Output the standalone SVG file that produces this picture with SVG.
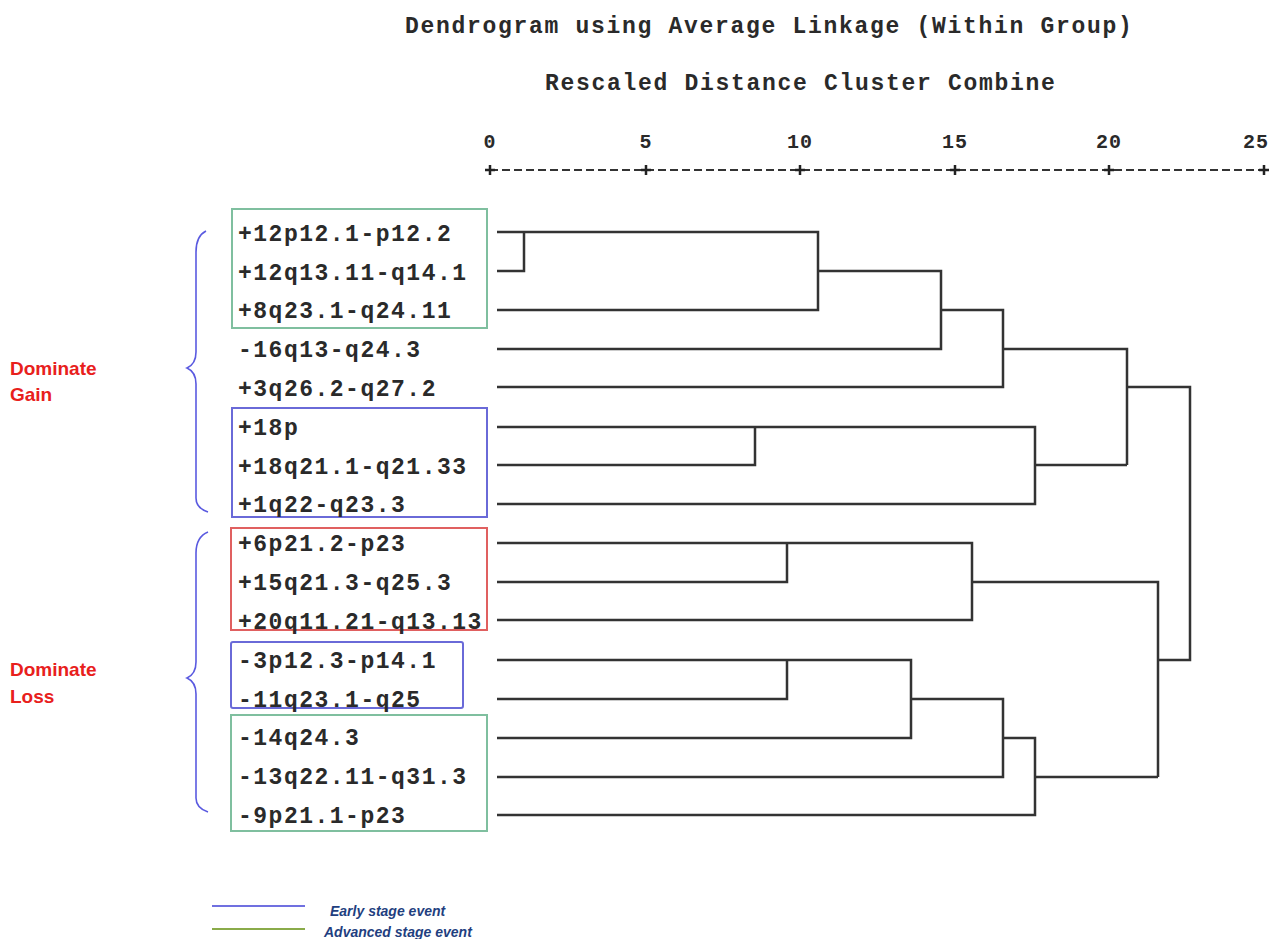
<svg xmlns="http://www.w3.org/2000/svg" width="1273" height="939" viewBox="0 0 1273 939">
<style>
.mono{font-family:"Liberation Mono","DejaVu Sans Mono",monospace;font-weight:bold;fill:#2a2a2a;font-size:23px;letter-spacing:1.5px}
.hdr{font-family:"Liberation Mono","DejaVu Sans Mono",monospace;font-weight:bold;fill:#2a2a2a;font-size:23px;letter-spacing:1.7px}
.num{font-family:"Liberation Mono","DejaVu Sans Mono",monospace;font-weight:bold;fill:#2a2a2a;font-size:20px;letter-spacing:1px}
.dom{font-family:"Liberation Sans",Arial,sans-serif;font-weight:bold;fill:#e8201c;font-size:19px}
.leg{font-family:"Liberation Sans",Arial,sans-serif;font-weight:bold;font-style:italic;fill:#1f3f7f;font-size:14px}
.tree{fill:none;stroke:#333;stroke-width:2.5}
.brace{fill:none;stroke:#5a5ae0;stroke-width:1.6}
.gbox{fill:none;stroke:#7fbf9f;stroke-width:2}
.bbox{fill:none;stroke:#6a6ad8;stroke-width:2}
.rbox{fill:none;stroke:#e06060;stroke-width:2}
</style>
<rect width="1273" height="939" fill="#fff"/>
<g id="title">
<text class="hdr" x="405" y="33">Dendrogram using Average Linkage (Within Group)</text>
<text class="hdr" x="545" y="90">Rescaled Distance Cluster Combine</text>
</g>
<g id="axis">
<text class="num" x="490" y="148" text-anchor="middle">0</text>
<text class="num" x="646" y="148" text-anchor="middle">5</text>
<text class="num" x="800" y="148" text-anchor="middle">10</text>
<text class="num" x="955" y="148" text-anchor="middle">15</text>
<text class="num" x="1109" y="148" text-anchor="middle">20</text>
<text class="num" x="1256" y="148" text-anchor="middle">25</text>
<line x1="490" y1="170" x2="1264" y2="170" stroke="#333" stroke-width="2" stroke-dasharray="8,4"/>
<path d="M485,170H495M490,165V175M641,170H651M646,165V175M795,170H805M800,165V175M950,170H960M955,165V175M1104,170H1114M1109,165V175M1259,170H1269M1264,165V175" stroke="#222" stroke-width="2.5" fill="none"/>
</g>
<g id="groups">
<path class="brace" d="M206,231 Q196,236 196,252 V352 Q196,364 187,368 Q196,372 196,384 V498 Q196,508 208,512"/>
<path class="brace" d="M208,532 Q196,537 196,553 V662 Q196,674 187,678 Q196,682 196,694 V798 Q196,808 208,812"/>
<text class="dom" x="10" y="375">Dominate</text>
<text class="dom" x="10" y="401">Gain</text>
<text class="dom" x="10" y="676">Dominate</text>
<text class="dom" x="10" y="703">Loss</text>
<rect id="box-gain-adv" class="gbox" x="232" y="209" width="255" height="119"/>
<rect id="box-gain-early" class="bbox" x="232" y="408" width="255" height="109"/>
<rect id="box-loss-red" class="rbox" x="231" y="528" width="256" height="102"/>
<rect id="box-loss-early" class="bbox" x="231" y="642" width="232" height="66" rx="2"/>
<rect id="box-loss-adv" class="gbox" x="231" y="715" width="256" height="116"/>
</g>
<g id="labels">
<text class="mono" x="238" y="241">+12p12.1-p12.2</text>
<text class="mono" x="238" y="280">+12q13.11-q14.1</text>
<text class="mono" x="238" y="318">+8q23.1-q24.11</text>
<text class="mono" x="238" y="357">-16q13-q24.3</text>
<text class="mono" x="238" y="396">+3q26.2-q27.2</text>
<text class="mono" x="238" y="435">+18p</text>
<text class="mono" x="238" y="474">+18q21.1-q21.33</text>
<text class="mono" x="238" y="512">+1q22-q23.3</text>
<text class="mono" x="238" y="551">+6p21.2-p23</text>
<text class="mono" x="238" y="590">+15q21.3-q25.3</text>
<text class="mono" x="238" y="629">+20q11.21-q13.13</text>
<text class="mono" x="238" y="668">-3p12.3-p14.1</text>
<text class="mono" x="238" y="707">-11q23.1-q25</text>
<text class="mono" x="238" y="745">-14q24.3</text>
<text class="mono" x="238" y="784">-13q22.11-q31.3</text>
<text class="mono" x="238" y="823">-9p21.1-p23</text>
</g>
<g id="connectors">
<path class="tree" d="M497,232H818V310H497M497,271H524V232M818,271H941V349H497M941,310H1003V387H497M1003,349H1127V465"/>
<path class="tree" d="M497,427H1035V504H497M497,465H755V427M1035,465H1127"/>
<path class="tree" d="M1127,387H1190V660H1158"/>
<path class="tree" d="M497,543H972V620H497M497,582H787V543M972,582H1158V777"/>
<path class="tree" d="M497,660H911V738H497M497,699H787V660M911,699H1003V777H497M1003,738H1035V815H497M1035,777H1158"/>
</g>
<g id="legend">
<line x1="212" y1="906" x2="305" y2="906" stroke="#7070e0" stroke-width="2"/>
<line x1="212" y1="929" x2="305" y2="929" stroke="#8aab4a" stroke-width="2"/>
<text class="leg" x="330" y="916">Early stage event</text>
<text class="leg" x="324" y="937">Advanced stage event</text>
</g>
</svg>
